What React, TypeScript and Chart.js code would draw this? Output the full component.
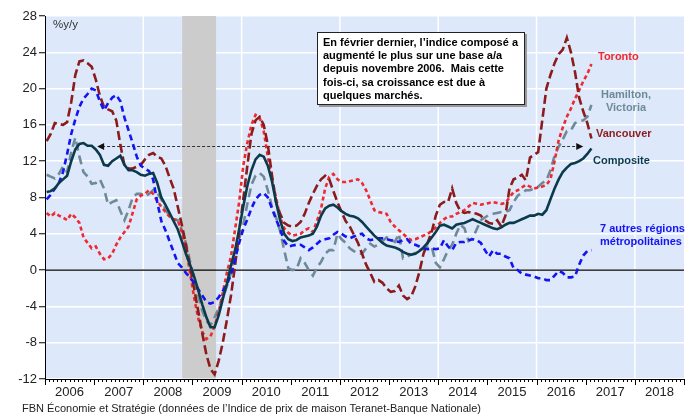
import React, { useEffect, useRef } from "react";
import { Chart, registerables } from "chart.js";

Chart.register(...registerables);
Chart.defaults.font.family = '"Liberation Sans", Arial, sans-serif';

const START_YEAR = 2006;
const END_YEAR = 2019;
const yearLabels = [2006, 2007, 2008, 2009, 2010, 2011, 2012, 2013, 2014, 2015, 2016, 2017, 2018];
const gridYears = [2008, 2010, 2012, 2014, 2016, 2018];
const yTickValues = [-12, -8, -4, 0, 4, 8, 12, 16, 20, 24, 28];
const recession = [2008.79, 2009.48];
const arrowSpan = [2007.06, 2016.95];
const arrowLevel = 13.65;

// monthly y/y % changes, Jan 2006 .. Feb 2017
const composite = [
  8.6, 8.7, 9.0, 9.6, 10.0, 10.4, 12.0, 13.3, 13.9, 14.0,
  13.7, 13.7, 13.3, 12.7, 11.6, 11.5, 12.0, 12.3, 12.6, 11.6,
  11.0, 11.0, 10.8, 10.5, 10.4, 10.6, 10.7, 9.6, 8.0, 7.2,
  6.3, 5.4, 4.5, 3.2, 1.8, 0.6, -0.7, -2.2, -3.8, -5.2,
  -6.3, -6.3, -5.0, -3.2, -1.5, 0.5, 2.2, 4.5, 7.0, 9.3,
  11.0, 12.2, 12.7, 12.5, 11.5, 9.8, 7.5, 5.5, 4.0, 3.4,
  3.2, 3.3, 3.6, 3.7, 3.8, 4.0, 4.8, 6.0, 6.8, 7.1,
  7.2, 6.9, 6.5, 6.2, 6.0, 5.9, 5.7, 5.3, 4.8, 4.3,
  3.8, 3.4, 3.0, 2.7, 2.6, 2.5, 2.3, 2.0, 1.8, 1.7,
  1.8, 2.1, 2.5, 3.0, 3.6, 4.2, 4.9, 5.0, 4.8, 4.6,
  5.0, 5.1, 5.2, 5.4, 5.6, 5.4, 5.2, 5.0, 4.8, 4.6,
  4.5, 4.7, 5.0, 5.2, 5.2, 5.4, 5.6, 5.8, 6.0, 6.0,
  6.2, 6.1, 6.6, 7.8, 9.0, 10.0, 10.8, 11.3, 11.7, 11.8,
  12.0, 12.3, 12.8, 13.4,
];

const vancouver = [
  14.2, 15.0, 16.2, 16.1, 16.0, 16.3, 18.5, 21.5, 23.0, 23.1,
  22.8, 22.4, 21.0, 19.2, 18.0, 17.7, 17.5, 16.5, 13.8, 11.5,
  11.2, 11.2, 11.4, 11.6, 12.2, 12.7, 12.9, 12.5, 12.3, 11.5,
  10.2, 9.0, 7.0, 5.0, 2.8, 0.4, -2.0, -4.5, -7.0, -9.3,
  -10.9, -11.5, -10.0, -8.0, -5.5, -2.8, 0.5, 4.2, 7.8, 11.5,
  15.0, 16.5, 16.9, 16.0, 13.8, 10.5, 7.5, 6.2, 5.2, 4.9,
  4.8, 4.9, 5.3, 6.2, 7.4, 8.4, 9.3, 10.0, 10.4, 10.0,
  8.7, 7.5, 6.4, 5.4, 4.8, 3.9, 3.0, 1.8, 0.6, -0.3,
  -1.3, -1.1, -1.4, -2.0, -2.4, -2.3, -1.7, -2.8, -3.2, -2.9,
  -1.8, -0.2, 1.8, 3.0, 4.2, 6.0, 7.2, 7.5, 7.5, 9.0,
  7.4, 6.5, 6.3, 6.4, 6.3, 6.2, 6.0, 5.5, 5.2, 5.1,
  5.5, 4.8, 6.0, 9.0, 10.0, 10.2, 10.5, 9.9, 12.4, 12.7,
  13.0, 16.5, 20.0, 21.5, 22.8, 23.8, 24.3, 25.6, 24.0, 21.8,
  19.0, 17.5, 16.2, 14.5,
];

const toronto = [
  6.3, 5.9, 6.3, 6.0, 5.8, 5.5, 6.2, 5.8, 5.2, 3.6,
  3.0, 2.4, 2.6, 1.8, 1.2, 1.3, 1.8, 2.8, 3.6, 4.2,
  4.8, 6.3, 7.8, 8.2, 8.4, 8.8, 8.4, 7.6, 7.0, 6.4,
  5.9, 5.6, 5.5, 4.2, 2.5, -0.3, -3.0, -5.3, -6.8, -7.6,
  -7.3, -6.2, -4.6, -2.5, -0.3, 1.5, 4.5, 7.5, 11.5, 14.0,
  16.0, 17.1, 16.8, 15.3, 12.5, 10.0, 8.0, 5.8, 4.6, 4.1,
  3.8, 3.9, 4.0, 4.4, 4.6, 4.2, 5.4, 6.8, 9.0, 10.3,
  10.6, 10.0, 9.7, 9.7, 9.8, 9.9, 10.0, 9.6, 8.8, 7.7,
  6.6, 6.4, 6.3, 6.2, 5.3, 4.8, 4.4, 4.0, 3.6, 3.3,
  3.4, 3.6, 3.8, 4.0, 4.3, 4.7, 5.2, 5.6, 5.9, 5.9,
  6.2, 6.4, 6.6, 7.0, 7.4, 7.3, 7.2, 7.3, 7.4, 7.5,
  7.4, 7.3, 7.4, 8.0, 8.6, 8.8, 9.1, 9.4, 9.2, 9.0,
  9.1, 9.2, 9.4, 10.0, 12.0, 14.3, 15.7, 16.9, 17.8, 18.9,
  19.8, 20.8, 21.6, 22.7,
];

const hamiltonVictoria = [
  10.5, 10.3, 10.1, 10.6, 11.4, 10.8, 13.0, 14.6, 12.5, 10.8,
  10.3, 9.5, 9.6, 10.0, 9.0, 7.2, 7.5, 7.7, 6.5, 5.5,
  6.6, 8.0, 8.4, 8.4, 8.1, 8.4, 8.8, 8.5, 7.8, 6.7,
  5.9, 5.6, 5.5, 4.4, 3.0, 1.0, -0.9, -2.8, -4.5, -5.6,
  -6.1, -5.2, -4.2, -3.0, -1.8, -0.3, 1.6, 3.4, 5.0, 7.3,
  9.4, 10.4, 10.7, 10.3, 8.8, 7.0, 5.8, 4.3, 2.2, 0.2,
  0.0, 0.1, 1.3, 0.8, 0.0, -0.6, 0.3, 0.9, 1.8, 2.2,
  2.2, 4.0, 3.4, 3.0, 2.4, 2.1, 1.8, 1.8, 2.4, 2.9,
  2.6, 2.8, 3.2, 3.6, 3.4, 3.1, 4.0, 1.3, 1.5, 1.7,
  1.9, 2.1, 2.4, 2.6, 2.6, 0.8, 0.3, 1.2, 2.2, 2.8,
  4.0, 5.0, 4.6, 3.2, 3.5, 4.5, 5.5, 5.8, 6.1, 6.2,
  6.3, 6.4, 6.4, 6.6, 7.5, 8.2, 8.5, 8.8, 8.8, 9.0,
  9.2, 9.6, 9.9, 11.0, 12.6, 13.6, 14.4, 15.3, 15.4, 16.2,
  16.4, 16.5, 16.9, 18.2,
];

const otherMetros = [
  7.8, 8.3, 9.0, 9.6, 10.8, 12.8, 15.0, 16.6, 18.0, 18.9,
  19.4, 20.0, 19.8, 18.6, 17.6, 18.4, 19.0, 19.3, 18.6, 16.8,
  15.4, 14.0, 12.5, 11.5, 11.2, 10.9, 10.0, 7.5, 5.4, 4.4,
  3.2, 2.0, 0.8, 0.3, -0.3, -0.8, -1.4, -2.1, -2.8, -3.5,
  -3.7, -3.5, -3.0, -2.3, -1.6, -0.5, 1.2, 3.0, 4.5, 5.6,
  6.8, 7.8, 8.3, 8.5, 8.0, 6.8, 5.6, 4.5, 3.2, 2.6,
  2.7, 2.8, 2.8, 2.5, 2.2, 2.5, 2.9, 3.3, 3.4, 3.5,
  3.9, 4.2, 4.0, 3.7, 3.5, 3.7, 3.9, 4.0, 3.5, 3.3,
  3.4, 3.5, 3.5, 3.4, 3.3, 3.2, 3.1, 3.3, 3.4, 2.9,
  2.8, 2.6, 2.4, 2.3, 2.4, 2.3, 2.4, 3.3, 2.6, 2.2,
  3.0, 3.1, 3.1, 3.3, 3.4, 3.3, 3.0, 2.2, 1.5, 2.2,
  1.8, 1.8, 1.5, 1.3, 0.2, 0.0, -0.4, -0.5, -0.6, -0.7,
  -0.9, -0.9, -1.1, -1.1, -0.6, -0.1, -0.3, -0.8, -0.8, -0.7,
  0.6, 1.6, 2.1, 2.2,
];

const COLORS = {
  composite: "#0B3A4C",
  vancouver: "#8C1C1C",
  toronto: "#EE2A2F",
  hamilton: "#6E8A99",
  others: "#1414F2",
};

function toPoints(arr: number[]) {
  return arr.map((v, i) => ({ x: START_YEAR + (i + 0.4) / 12, y: v }));
}

const decorPlugin = {
  id: "decor",
  beforeDraw(chart: any) {
    const { ctx, chartArea } = chart;
    const { left, top, right, bottom } = chartArea;
    ctx.save();
    ctx.fillStyle = "#DDE9FB";
    ctx.fillRect(left, top, right - left, bottom - top);
    ctx.restore();
  },
  beforeDatasetsDraw(chart: any) {
    const { ctx, chartArea } = chart;
    const { top, bottom, left, right } = chartArea;
    const xs = chart.scales.x;
    const ys = chart.scales.y;
    ctx.save();
    // vertical grid lines
    ctx.strokeStyle = "#FFFFFF";
    ctx.lineWidth = 1.5;
    gridYears.forEach((yr) => {
      const px = xs.getPixelForValue(yr);
      ctx.beginPath();
      ctx.moveTo(px, top);
      ctx.lineTo(px, bottom);
      ctx.stroke();
    });
    // recession shading
    const r0 = xs.getPixelForValue(recession[0]);
    const r1 = xs.getPixelForValue(recession[1]);
    ctx.fillStyle = "#CCCCCC";
    ctx.fillRect(r0, top, r1 - r0, bottom - top - 0.5);
    // zero line
    const z = ys.getPixelForValue(0);
    ctx.strokeStyle = "#000";
    ctx.lineWidth = 1.2;
    ctx.beginPath();
    ctx.moveTo(left, z);
    ctx.lineTo(right, z);
    ctx.stroke();
    // dashed double arrow
    const a0 = xs.getPixelForValue(arrowSpan[0]);
    const a1 = xs.getPixelForValue(arrowSpan[1]);
    const ay = Math.round(ys.getPixelForValue(arrowLevel)) + 0.5;
    ctx.strokeStyle = "#333";
    ctx.lineWidth = 1;
    ctx.setLineDash([3, 2]);
    ctx.beginPath();
    ctx.moveTo(a0 + 5, ay);
    ctx.lineTo(a1 - 5, ay);
    ctx.stroke();
    ctx.setLineDash([]);
    ctx.fillStyle = "#111";
    ctx.beginPath();
    ctx.moveTo(a0, ay);
    ctx.lineTo(a0 + 7, ay - 3.5);
    ctx.lineTo(a0 + 7, ay + 3.5);
    ctx.closePath();
    ctx.fill();
    ctx.beginPath();
    ctx.moveTo(a1, ay);
    ctx.lineTo(a1 - 7, ay - 3.5);
    ctx.lineTo(a1 - 7, ay + 3.5);
    ctx.closePath();
    ctx.fill();
    ctx.restore();
  },
  afterDraw(chart: any) {
    const { ctx, chartArea } = chart;
    const { bottom, left, right } = chartArea;
    const xs = chart.scales.x;
    ctx.save();
    ctx.strokeStyle = "#000";
    ctx.lineWidth = 1;
    ctx.beginPath();
    ctx.moveTo(left, bottom + 0.5);
    ctx.lineTo(right, bottom + 0.5);
    ctx.stroke();
    for (let m = 0; m <= (END_YEAR - START_YEAR) * 12; m++) {
      const px = Math.round(xs.getPixelForValue(START_YEAR + m / 12)) + 0.5;
      const len = m % 12 === 0 ? 6 : 3;
      ctx.beginPath();
      ctx.moveTo(px, bottom);
      ctx.lineTo(px, bottom + len);
      ctx.stroke();
    }
    ctx.restore();
  },
};

const font = '"Liberation Sans", Arial, sans-serif';

export default function App() {
  const ref = useRef<HTMLCanvasElement>(null);

  useEffect(() => {
    const canvas = ref.current;
    if (!canvas) return;
    const chart = new Chart(canvas, {
      type: "line",
      data: {
        datasets: [
          { label: "Composite", data: toPoints(composite), borderColor: COLORS.composite, borderWidth: 2.6, order: 0 },
          { label: "7 autres régions métropolitaines", data: toPoints(otherMetros), borderColor: COLORS.others, borderWidth: 2.6, borderDash: [6, 4], order: 1 },
          { label: "Vancouver", data: toPoints(vancouver), borderColor: COLORS.vancouver, borderWidth: 2.6, borderDash: [9, 4], order: 2 },
          { label: "Toronto", data: toPoints(toronto), borderColor: COLORS.toronto, borderWidth: 2.6, borderDash: [4, 3], order: 3 },
          { label: "Hamilton, Victoria", data: toPoints(hamiltonVictoria), borderColor: COLORS.hamilton, borderWidth: 2.6, borderDash: [9, 5], order: 4 },
        ].map((d) => ({ ...d, pointRadius: 0, fill: false, tension: 0 })) as any,
      },
      options: {
        responsive: false,
        animation: false,
        devicePixelRatio: 1,
        layout: { padding: { top: 16, right: 10, left: 0, bottom: 0 } },
        plugins: { legend: { display: false }, tooltip: { enabled: false } },
        scales: {
          x: {
            type: "linear",
            min: START_YEAR,
            max: END_YEAR,
            afterBuildTicks: (axis: any) => {
              axis.ticks = yearLabels.map((y) => ({ value: y + 0.5 }));
            },
            afterFit: (s: any) => {
              s.height = 38;
            },
            ticks: {
              autoSkip: false,
              maxRotation: 0,
              padding: 6,
              color: "#222",
              font: { size: 13 },
              callback: (v: any) => String(Math.floor(Number(v))),
            },
            grid: { display: true, drawOnChartArea: false, drawTicks: false },
            border: { display: true, color: "#000", width: 1 },
          },
          y: {
            type: "linear",
            min: -12,
            max: 28,
            afterBuildTicks: (axis: any) => {
              axis.ticks = yTickValues.map((v) => ({ value: v }));
            },
            afterFit: (s: any) => {
              s.width = 45;
            },
            ticks: { padding: 2, color: "#222", font: { size: 13 } },
            grid: { color: "#FFFFFF", lineWidth: 1.5, tickColor: "#000", tickLength: 6, tickWidth: 1 },
            border: { display: true, color: "#000", width: 1 },
          },
        },
      } as any,
      plugins: [decorPlugin],
    });
    return () => chart.destroy();
  }, []);

  const label = (extra: React.CSSProperties): React.CSSProperties => ({
    position: "absolute",
    fontFamily: font,
    fontWeight: "bold",
    fontSize: 11,
    lineHeight: "13px",
    whiteSpace: "nowrap",
    ...extra,
  });

  return (
    <div style={{ position: "fixed", left: 0, top: 0, width: 694, height: 417, background: "#fff", overflow: "hidden" }}>
      <canvas ref={ref} width={694} height={417} style={{ position: "absolute", left: 0, top: 0, width: 694, height: 417 }} />
      <div style={{ position: "absolute", left: 53, top: 18, fontFamily: font, fontSize: 11.5, color: "#333" }}>%y/y</div>
      <div
        style={{
          position: "absolute",
          left: 317,
          top: 32,
          width: 208,
          height: 73,
          boxSizing: "border-box",
          background: "#fff",
          border: "1.5px solid #222",
          boxShadow: "2px 2px 0 #999",
          padding: "3px 0 0 5px",
          fontFamily: font,
          fontWeight: "bold",
          fontSize: 11,
          lineHeight: "13.2px",
          color: "#000",
          whiteSpace: "pre",
        }}
      >
        {"En février dernier, l’indice composé a\naugmenté le plus sur une base a/a\ndepuis novembre 2006.  Mais cette\nfois-ci, sa croissance est due à\nquelques marchés."}
      </div>
      <div style={label({ left: 598, top: 50, color: COLORS.toronto })}>Toronto</div>
      <div style={label({ left: 596, top: 88, width: 60, textAlign: "center", color: COLORS.hamilton })}>
        Hamilton,
        <br />
        Victoria
      </div>
      <div style={label({ left: 596, top: 127, color: COLORS.vancouver })}>Vancouver</div>
      <div style={label({ left: 593, top: 154, color: COLORS.composite })}>Composite</div>
      <div style={label({ left: 600, top: 222, color: COLORS.others })}>
        7 autres régions
        <br />
        métropolitaines
      </div>
      <div style={{ position: "absolute", left: 22, top: 402, fontFamily: font, fontSize: 11, color: "#222", whiteSpace: "nowrap" }}>
        FBN Économie et Stratégie (données de l’Indice de prix de maison Teranet-Banque Nationale)
      </div>
    </div>
  );
}
